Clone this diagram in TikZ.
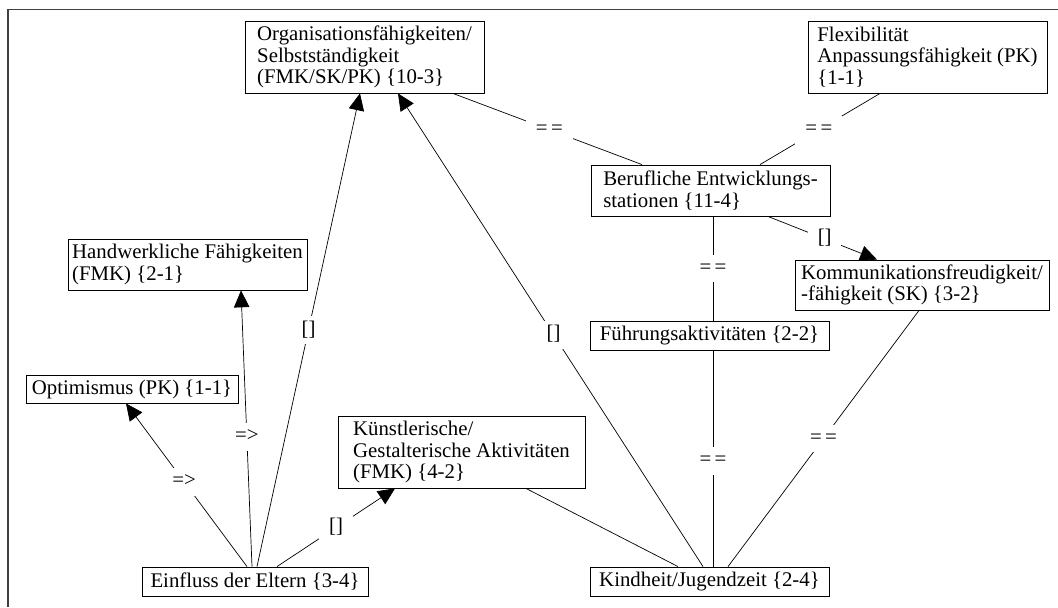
\documentclass[tikz,border=0pt]{standalone}
\usepackage{fontspec}
\setmainfont{Liberation Serif}
\usetikzlibrary{arrows.meta,calc}

\begin{document}
\begin{tikzpicture}[x=0.025cm,y=-0.025cm]
\tikzset{box/.style={draw,line width=0.6pt,align=left,inner sep=0pt,font=\fontsize{14.8}{15.2}\selectfont}}
\tikzset{edge/.style={line width=0.5pt}}
\tikzset{arr/.style={edge,-{Triangle[length=12pt,width=11pt]}}}
\tikzset{lbl/.style={fill=white,inner xsep=7pt,inner ysep=2.7pt,text height=10.8pt,text depth=3.6pt,font=\fontsize{14.8}{15.2}\selectfont}}
\useasboundingbox (0,0) rectangle (1058,607);
\draw[line width=0.8pt,black!75] (8,607) -- (8,9.5) -- (1058,9.5);

\node[box,minimum width=5.975cm,minimum height=1.8cm](Org) at (364.5,57) {Organisationsfähigkeiten/\\Selbstständigkeit\\(FMK/SK/PK) \{10-3\}};
\node[box,minimum width=5.975cm,minimum height=1.8cm](Flex) at (927.5,57) {Flexibilität\\Anpassungsfähigkeit (PK)\\\{1-1\}};
\node[box,minimum width=5.975cm,minimum height=1.275cm](Beruf) at (710.5,190.5) {Berufliche Entwicklungs-\\stationen \{11-4\}};
\node[box,minimum width=5.975cm,minimum height=1.275cm](Hand) at (187.5,264.5) {Handwerkliche Fähigkeiten\\(FMK) \{2-1\}};
\node[box,minimum width=6.35cm,minimum height=1.25cm](Komm) at (922,285) {Kommunikationsfreudigkeit/\\-fähigkeit (SK) \{3-2\}};
\node[box,minimum width=5.3cm,minimum height=0.7cm](Opt) at (132,389) {Optimismus (PK) \{1-1\}};
\node[box,minimum width=5.975cm,minimum height=0.725cm](Fuehr) at (709.5,335.5) {Führungsaktivitäten \{2-2\}};
\node[box,minimum width=6.175cm,minimum height=1.8cm](Kuenst) at (461.5,452) {Künstlerische/\\Gestalterische Aktivitäten\\(FMK) \{4-2\}};
\node[box,minimum width=5.65cm,minimum height=0.725cm](Einfl) at (255,581.5) {Einfluss der Eltern \{3-4\}};
\node[box,minimum width=5.975cm,minimum height=0.725cm](Kind) at (709.5,581.5) {Kindheit/Jugendzeit \{2-4\}};

\draw[arr] ($(Einfl.north)+(2,0)$) -- node[lbl,pos=0.5]{[]} ($(Org.south)+(-4.5,0)$);
\draw[arr] ($(Einfl.north)+(-3,0)$) -- node[lbl,pos=0.47]{=>} ($(Hand.south)+(53.5,0)$);
\draw[arr] ($(Einfl.north)+(-8,0)$) -- node[lbl,pos=0.52]{=>} ($(Opt.south)+(-6,0)$);
\draw[arr] ($(Einfl.north)+(22,0)$) -- node[lbl,pos=0.5]{[]} ($(Kuenst.south)+(-66.5,0)$);
\draw[arr] ($(Kind.north)+(-6.5,0)$) -- node[lbl,pos=0.49]{[]} ($(Org.south)+(33.5,0)$);
\draw[edge] ($(Kind.north)+(-31.5,0)$) -- ($(Kuenst.south)+(64.5,0)$);
\draw[edge] ($(Kind.north)+(3.5,0)$) -- node[lbl,pos=0.49]{=\,=} ($(Fuehr.south)+(3.5,0)$);
\draw[edge] ($(Kind.north)+(18.5,0)$) -- node[lbl,pos=0.5]{=\,=} ($(Komm.south)+(-3,0)$);
\draw[edge] ($(Beruf.north)+(-68.5,0)$) -- node[lbl,pos=0.49]{=\,=} ($(Org.south)+(88.5,0)$);
\draw[edge] ($(Beruf.north)+(49.5,0)$) -- node[lbl,pos=0.49]{=\,=} ($(Flex.south)+(-47.5,0)$);
\draw[arr] ($(Beruf.south)+(57.5,0)$) -- node[lbl,pos=0.52]{[]} ($(Komm.north)+(-45,0)$);
\draw[edge] ($(Beruf.south)+(2.5,0)$) -- node[lbl,pos=0.5]{=\,=} ($(Fuehr.north)+(3.5,0)$);
\end{tikzpicture}
\end{document}
